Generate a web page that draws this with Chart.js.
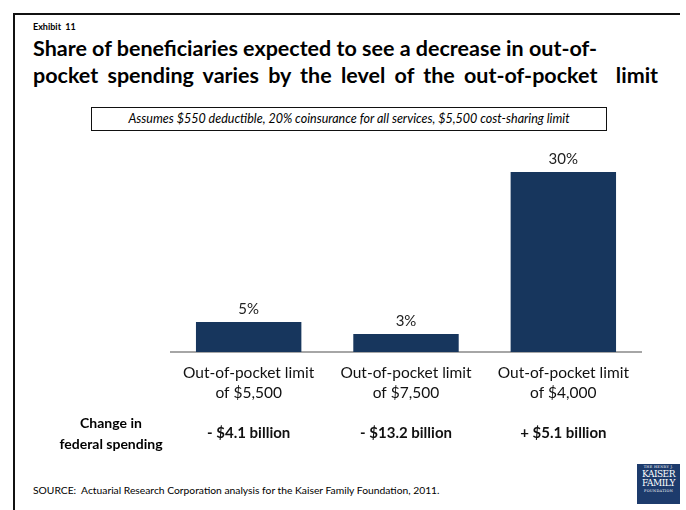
<!DOCTYPE html>
<html lang="en">
<head>
  <meta charset="UTF-8">
  <title>Exhibit 11</title>
  <script src="https://cdn.jsdelivr.net/npm/chart.js"></script>
  <style>
    html, body { margin: 0; padding: 0; background: #fff; }
    body { width: 686px; height: 510px; position: relative; overflow: hidden; font-family: 'Lato', 'Noto Sans', sans-serif; color: #000; }
    .frame-top { position: absolute; left: 13px; top: 13px; width: 667px; height: 2px; background: #111; }
    .frame-left { position: absolute; left: 13px; top: 13px; width: 2px; height: 497px; background: #111; }
    .exhibit { position: absolute; left: 33px; top: 21px; font-size: 9px; font-weight: bold; }
    .title { position: absolute; left: 33px; top: 35px; font-size: 21.5px; font-weight: bold; line-height: 27px; white-space: nowrap; }
    .title .l2 { word-spacing: 4px; }
    .note { position: absolute; left: 91px; top: 107px; width: 514px; height: 22px; border: 1.2px solid #111;
            font-size: 12.5px; font-style: italic; text-align: center; line-height: 22px; }
    #wrap { position: absolute; left: 170px; top: 140px; width: 472px; height: 320px; }
    .rowhead { position: absolute; left: 51px; top: 412px; width: 120px; text-align: center; font-size: 14px; font-weight: bold; line-height: 21px; }
    .source { position: absolute; left: 33px; top: 484px; font-size: 10.3px; }
    .logo { position: absolute; left: 637px; top: 464px; width: 43px; height: 40px; background: #1d3b6c; color: #fff;
            font-family: 'DejaVu Serif', serif; text-align: center; }
    .logo .s { font-size: 3.5px; line-height: 6px; letter-spacing: 0.3px; }
    .logo .b { font-size: 9px; line-height: 9px; letter-spacing: -0.5px; }
  </style>
</head>
<body>
  <div class="frame-top"></div>
  <div class="frame-left"></div>
  <div class="exhibit">Exhibit&nbsp; 11</div>
  <div class="title">Share of beneficiaries expected to see a decrease in out-of-<br><span class="l2">pocket spending varies by the level of the out-of-pocket&nbsp; limit</span></div>
  <div class="note">Assumes $550 deductible, 20% coinsurance for all services, $5,500 cost-sharing limit</div>
  <div id="wrap"><canvas id="chart"></canvas></div>
  <div class="rowhead">Change in<br>federal spending</div>
  <div class="source">SOURCE:&nbsp; Actuarial Research Corporation analysis for the Kaiser Family Foundation, 2011.</div>
  <div class="logo"><div class="s">THE HENRY J.</div><div class="b">KAISER</div><div class="b">FAMILY</div><div class="s">FOUNDATION</div></div>
  <script>
    const categories = [
      ['Out-of-pocket limit', 'of $5,500'],
      ['Out-of-pocket limit', 'of $7,500'],
      ['Out-of-pocket limit', 'of $4,000']
    ];
    const shares = [5, 3, 30];
    const spending = ['- $4.1 billion', '- $13.2 billion', '+ $5.1 billion'];

    // value labels above each bar
    const valueLabels = {
      id: 'valueLabels',
      afterDatasetsDraw(chart) {
        const ctx = chart.ctx;
        const meta = chart.getDatasetMeta(0);
        ctx.save();
        ctx.font = '15px Lato, "Noto Sans", sans-serif';
        ctx.fillStyle = '#222';
        ctx.textAlign = 'center';
        ctx.textBaseline = 'middle';
        meta.data.forEach((bar, i) => {
          ctx.fillText(shares[i] + '%', bar.x, bar.y - 13);
        });
        ctx.restore();
      }
    };

    new Chart(document.getElementById('chart'), {
      type: 'bar',
      data: {
        labels: categories,
        datasets: [{
          data: shares,
          backgroundColor: '#17365d',
          categoryPercentage: 1,
          barPercentage: 0.67
        }]
      },
      options: {
        responsive: true,
        maintainAspectRatio: false,
        animation: false,
        layout: { padding: { top: 20, left: 0, right: 0, bottom: 0 } },
        plugins: { legend: { display: false }, tooltip: { enabled: false } },
        scales: {
          y: { display: false, min: 0, max: 32 },
          x: {
            weight: 0,
            offset: true,
            grid: { display: false },
            border: { display: true, color: '#a6a6a6', width: 2 },
            ticks: { color: '#111', padding: 3, font: { family: 'Lato', size: 15.5, lineHeight: 1.3 } },
            afterFit(scale) { scale.height = 60; }
          },
          x2: {
            type: 'category',
            position: 'bottom',
            weight: 1,
            offset: true,
            labels: spending,
            grid: { display: false },
            border: { display: false },
            ticks: { color: '#111', padding: 4, font: { family: 'Lato', size: 15, weight: 'bold', lineHeight: 1.2 } },
            afterFit(scale) { scale.height = 48; }
          }
        }
      },
      plugins: [valueLabels]
    });
  </script>
</body>
</html>
